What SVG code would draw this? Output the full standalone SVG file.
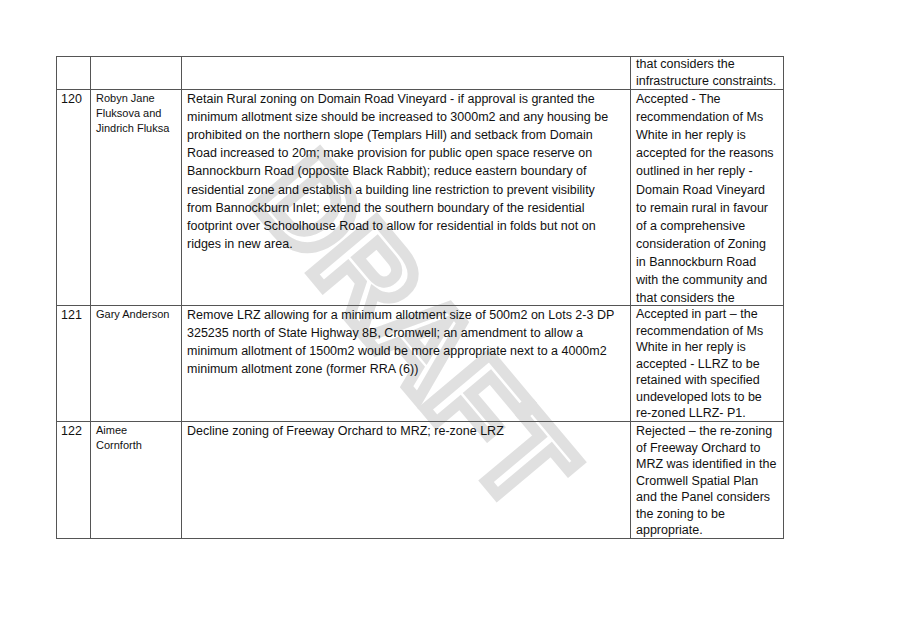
<svg xmlns="http://www.w3.org/2000/svg" width="907" height="626" viewBox="0 0 907 626">
<style>
.t{font-family:"Liberation Sans",Arial,sans-serif;font-size:12.5px;fill:#111}
.n{font-family:"Liberation Sans",Arial,sans-serif;font-size:11px;fill:#111}
.g{stroke:#555;stroke-width:1;fill:none}
</style>
<rect width="907" height="626" fill="#fff"/>
<text x="0" y="0" transform="translate(250,200) rotate(50)" font-family="Liberation Sans,Arial,sans-serif" font-weight="bold" font-size="122" fill="none" stroke="#e0e0e0" stroke-width="11">DRAFT</text>
<g id="grid" class="g">
<rect x="56.5" y="56.5" width="727" height="482"/>
<line x1="90.5" y1="56" x2="90.5" y2="539"/>
<line x1="181.5" y1="56" x2="181.5" y2="539"/>
<line x1="630.5" y1="56" x2="630.5" y2="539"/>
<line x1="56" y1="89.5" x2="784" y2="89.5"/>
<line x1="56" y1="305.5" x2="784" y2="305.5"/>
<line x1="56" y1="421.5" x2="784" y2="421.5"/>
</g>
<g id="row0" class="t">
<text x="636" y="68">that considers the</text>
<text x="636" y="85">infrastructure constraints.</text>
</g>
<g id="row120" class="t">
<text x="61" y="103">120</text>
<text class="n" x="96" y="102">Robyn Jane</text>
<text class="n" x="96" y="117">Fluksova and</text>
<text class="n" x="96" y="132">Jindrich Fluksa</text>
<text x="187" y="103">Retain Rural zoning on Domain Road Vineyard - if approval is granted the</text>
<text x="187" y="121">minimum allotment size should be increased to 3000m2 and any housing be</text>
<text x="187" y="139">prohibited on the northern slope (Templars Hill) and setback from Domain</text>
<text x="187" y="157">Road increased to 20m; make provision for public open space reserve on</text>
<text x="187" y="175">Bannockburn Road (opposite Black Rabbit); reduce eastern boundary of</text>
<text x="187" y="194">residential zone and establish a building line restriction to prevent visibility</text>
<text x="187" y="212">from Bannockburn Inlet; extend the southern boundary of the residential</text>
<text x="187" y="230">footprint over Schoolhouse Road to allow for residential in folds but not on</text>
<text x="187" y="248">ridges in new area.</text>
<text x="636" y="103">Accepted - The</text>
<text x="636" y="121">recommendation of Ms</text>
<text x="636" y="139">White in her reply is</text>
<text x="636" y="157">accepted for the reasons</text>
<text x="636" y="175">outlined in her reply -</text>
<text x="636" y="194">Domain Road Vineyard</text>
<text x="636" y="212">to remain rural in favour</text>
<text x="636" y="230">of a comprehensive</text>
<text x="636" y="248">consideration of  Zoning</text>
<text x="636" y="266">in Bannockburn Road</text>
<text x="636" y="284">with the community and</text>
<text x="636" y="302" dy="-0.5">that considers the</text>
</g>
<g id="row120b" class="t">
<text x="636" y="302" dy="0" visibility="hidden"> </text>
</g>
<g id="row121" class="t">
<text x="61" y="319">121</text>
<text class="n" x="96" y="318">Gary Anderson</text>
<text x="187" y="319">Remove LRZ allowing for a minimum allotment size of 500m2 on Lots 2-3 DP</text>
<text x="187" y="337">325235 north of State Highway 8B, Cromwell; an amendment to allow a</text>
<text x="187" y="355">minimum allotment of 1500m2 would be more appropriate next to a 4000m2</text>
<text x="187" y="373">minimum allotment zone (former RRA (6))</text>
<text x="636" y="318">Accepted in part – the</text>
<text x="636" y="334.5">recommendation of Ms</text>
<text x="636" y="351">White in her reply is</text>
<text x="636" y="367.5">accepted  - LLRZ to be</text>
<text x="636" y="384">retained with specified</text>
<text x="636" y="400.5">undeveloped lots to be</text>
<text x="636" y="417">re-zoned LLRZ- P1.</text>
</g>
<g id="row122" class="t">
<text x="61" y="435">122</text>
<text class="n" x="96" y="434">Aimee</text>
<text class="n" x="96" y="449">Cornforth</text>
<text x="187" y="435">Decline zoning of Freeway Orchard to MRZ; re-zone LRZ</text>
<text x="636" y="435">Rejected – the re-zoning</text>
<text x="636" y="451.5">of Freeway Orchard to</text>
<text x="636" y="468">MRZ was identified in the</text>
<text x="636" y="484.5">Cromwell Spatial Plan</text>
<text x="636" y="501">and the Panel considers</text>
<text x="636" y="517.5">the zoning to be</text>
<text x="636" y="534">appropriate.</text>
</g>
</svg>
